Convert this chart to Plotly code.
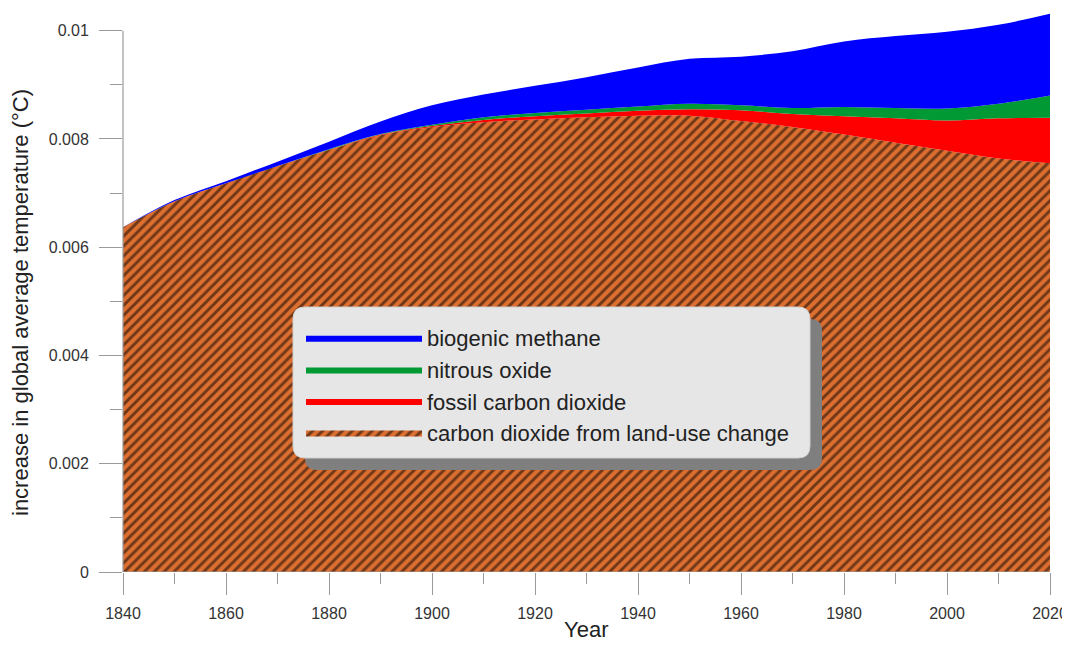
import plotly.graph_objects as go

# decades
years = [1840, 1850, 1860, 1870, 1880, 1890, 1900, 1910, 1920, 1930,
         1940, 1950, 1960, 1970, 1980, 1990, 2000, 2010, 2020]

# contribution of each source (°C), stacked bottom to top
land_use_co2 = [0.00637, 0.00685, 0.00718, 0.00750, 0.00780, 0.00807, 0.00822, 0.00831, 0.00836, 0.00840,
                0.00843, 0.00843, 0.00833, 0.00822, 0.00808, 0.00793, 0.00778, 0.00764, 0.00755]
fossil_co2 = [0.0, 0.0, 0.0, 0.0, 0.0, 0.00001, 0.00002, 0.00004, 0.00006, 0.00007,
              0.00009, 0.00012, 0.00020, 0.00024, 0.00034, 0.00045, 0.00056, 0.00074, 0.00084]
nitrous_oxide = [0.0, 0.0, 0.0, 0.0, 0.00001, 0.00001, 0.00002, 0.00005, 0.00006, 0.00007,
                 0.00008, 0.00010, 0.00009, 0.00011, 0.00017, 0.00019, 0.00022, 0.00027, 0.00041]
methane = [0.0, 0.00002, 0.00004, 0.00008, 0.00014, 0.00023, 0.00036, 0.00042, 0.00050, 0.00060,
           0.00072, 0.00083, 0.00090, 0.00105, 0.00121, 0.00133, 0.00142, 0.00146, 0.00151]

FONT = "Arial, Liberation Sans, sans-serif"
AXIS_GREY = "#9a9a9a"
ORANGE = "#dc6e30"

fig = go.Figure()
fig.add_trace(go.Scatter(
    x=years, y=land_use_co2, name="carbon dioxide from land-use change",
    stackgroup="one", mode="lines", line=dict(width=0, shape="spline", color=ORANGE),
    fillcolor=ORANGE,
    fillpattern=dict(shape="/", bgcolor=ORANGE, fgcolor="#000000", size=7, solidity=0.42),
    hoverinfo="skip"))
fig.add_trace(go.Scatter(
    x=years, y=fossil_co2, name="fossil carbon dioxide",
    stackgroup="one", mode="lines", line=dict(width=0, shape="spline", color="#ff0000"),
    fillcolor="#ff0000", hoverinfo="skip"))
fig.add_trace(go.Scatter(
    x=years, y=nitrous_oxide, name="nitrous oxide",
    stackgroup="one", mode="lines", line=dict(width=0, shape="spline", color="#009933"),
    fillcolor="#009933", hoverinfo="skip"))
fig.add_trace(go.Scatter(
    x=years, y=methane, name="biogenic methane",
    stackgroup="one", mode="lines", line=dict(width=0, shape="spline", color="#0000ff"),
    fillcolor="#0000ff", hoverinfo="skip"))

# the page body has an 8px margin; size the figure so the plot area lands on
# x 123..1050 and y 9..572 of the window
FIG_W, FIG_H = 1062, 638
ML, MR, MT, MB = 115, 20, 1, 74
W, H = 927, 563
LEFT, BOTTOM = 123, 572


def px(x):
    return (x - LEFT) / W


def py(y):
    return (BOTTOM - y) / H


def rounded(x0, y0, x1, y1, r):
    rx, ry = r / W, r / H
    X0, X1 = px(x0), px(x1)
    Y0, Y1 = py(y1), py(y0)  # bottom, top in paper
    return (f"M{X0 + rx},{Y0} L{X1 - rx},{Y0} Q{X1},{Y0} {X1},{Y0 + ry} "
            f"L{X1},{Y1 - ry} Q{X1},{Y1} {X1 - rx},{Y1} L{X0 + rx},{Y1} "
            f"Q{X0},{Y1} {X0},{Y1 - ry} L{X0},{Y0 + ry} Q{X0},{Y0} {X0 + rx},{Y0} Z")


shapes = [
    dict(type="path", xref="paper", yref="paper", path=rounded(305, 319, 822, 470, 12),
         fillcolor="#7f7f7f", line=dict(width=0), layer="above"),
    dict(type="path", xref="paper", yref="paper", path=rounded(293, 307, 810, 458, 12),
         fillcolor="#e6e6e6", line=dict(color="#d0d0d0", width=1), layer="above"),
    # axis lines (the y axis stops at 0.01)
    dict(type="line", xref="paper", yref="y", x0=0, x1=0, y0=0, y1=0.01,
         line=dict(color=AXIS_GREY, width=1.2), layer="above"),
    dict(type="line", xref="paper", yref="y", x0=0, x1=1, y0=0, y1=0,
         line=dict(color=AXIS_GREY, width=1.2), layer="above"),
]

annotations = [
    dict(text="increase in global average temperature (°C)", textangle=-90,
         xref="paper", yref="paper", x=px(20), y=py(303), xanchor="center", yanchor="middle",
         showarrow=False, font=dict(family=FONT, size=22, color="#222222")),
    dict(text="Year", xref="paper", yref="paper", x=px(586), y=py(629),
         xanchor="center", yanchor="middle",
         showarrow=False, font=dict(family=FONT, size=22, color="#222222")),
]

fig.update_layout(
    width=FIG_W, height=FIG_H,
    margin=dict(l=ML, r=MR, t=MT, b=MB, autoexpand=False),
    paper_bgcolor="white", plot_bgcolor="white",
    font=dict(family=FONT, color="#444444"),
    showlegend=True,
    legend=dict(
        x=px(301), y=py(317), xanchor="left", yanchor="top",
        bgcolor="rgba(0,0,0,0)", borderwidth=0,
        traceorder="reversed", itemwidth=116, tracegroupgap=0,
        font=dict(family=FONT, size=22, color="#222222"),
    ),
    shapes=shapes,
    annotations=annotations,
    xaxis=dict(
        range=[1840, 2020], tickmode="linear", tick0=1840, dtick=20,
        ticks="outside", ticklen=22, tickcolor=AXIS_GREY, tickwidth=1.2,
        minor=dict(dtick=10, ticks="outside", ticklen=11, tickcolor=AXIS_GREY, tickwidth=1.2),
        showgrid=False, zeroline=False, showline=False, automargin=False,
        ticklabelstandoff=5, ticklabeloverflow="allow",
        tickfont=dict(size=16, color="#333333"),
    ),
    yaxis=dict(
        range=[0, 0.0104], tickmode="linear", tick0=0, dtick=0.002,
        ticks="outside", ticklen=23, tickcolor=AXIS_GREY, tickwidth=1.2,
        minor=dict(dtick=0.001, ticks="outside", ticklen=12, tickcolor=AXIS_GREY, tickwidth=1.2),
        showgrid=False, zeroline=False, showline=False, automargin=False,
        ticklabelstandoff=7,
        tickfont=dict(size=16, color="#333333"),
    ),
)

fig.write_html("out.html")
